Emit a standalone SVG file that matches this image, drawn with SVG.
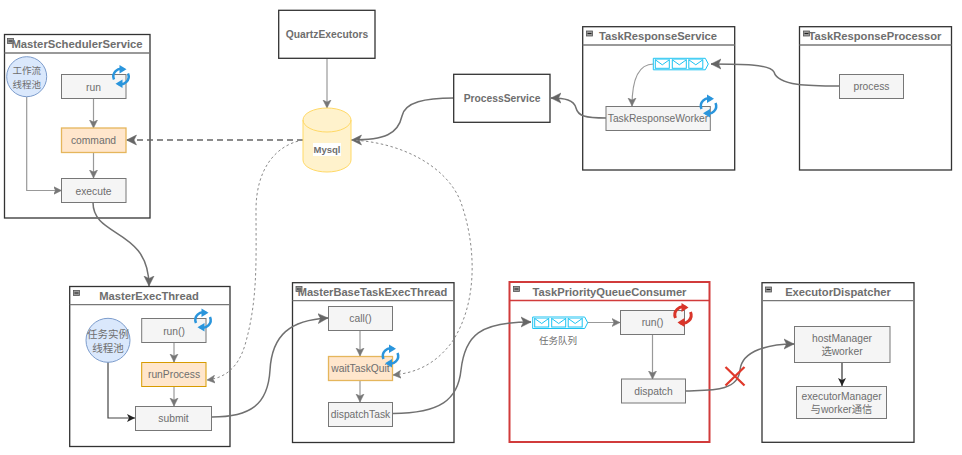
<svg xmlns="http://www.w3.org/2000/svg" width="962" height="455" viewBox="0 0 962 455">
<style>
text{font-family:"Liberation Sans",Arial,"Noto Sans CJK SC",sans-serif;font-size:10.300px;fill:#6e6e6e;text-anchor:middle}
.t{font-weight:bold;font-size:11.200px}
.t2{font-weight:bold;font-size:10.300px}
.f{fill:#fff;stroke:#333;stroke-width:1.300}
.h{stroke:#777;stroke-width:1.300;fill:none}
.b{fill:#f5f5f5;stroke:#777;stroke-width:1}
.o{fill:#ffe6cc;stroke:#e5b65c;stroke-width:1.300}
.c{fill:#dae8fc;stroke:#7c9ccc;stroke-width:1}
.e{stroke:#999;stroke-width:1.200;fill:none}
.k{stroke:#707070;stroke-width:1.500;fill:none}
.d{stroke:#666;stroke-width:1.500;fill:none;stroke-dasharray:6 4}
.g{stroke:#8a8a8a;stroke-width:1;fill:none;stroke-dasharray:2.500 2.500}
.s{fill:none;stroke:#2a95dc;stroke-width:2.500}
.r{fill:none;stroke:#d9352a;stroke-width:3}
.q{fill:#fff;stroke:#1cc3f2;stroke-width:1}
</style>
<defs>
<marker id="a" markerUnits="userSpaceOnUse" markerWidth="10" markerHeight="10" refX="8" refY="5" orient="auto"><path d="M0 1 L8 5 L0 9 L2 5 Z" fill="#777" stroke="#777" stroke-width=".5"/></marker>
<marker id="A" markerUnits="userSpaceOnUse" markerWidth="12" markerHeight="12" refX="10" refY="6" orient="auto"><path d="M0 1 L10 6 L0 11 L2.500 6 Z" fill="#666" stroke="#666" stroke-width=".5"/></marker>
<marker id="K" markerUnits="userSpaceOnUse" markerWidth="10" markerHeight="10" refX="8" refY="5" orient="auto"><path d="M0 1 L8 5 L0 9 L2 5 Z" fill="#222"/></marker>
<g id="sy"><path class="s" d="M-7 3 A7.600 7.600 0 0 1 3 -7"/><path class="s" d="M7 -3 A7.600 7.600 0 0 1 -3 7"/><path d="M-1.500 -11.500 L5.500 -7.300 L-1.500 -3 Z" fill="#2a95dc"/><path d="M1.500 11.500 L-5.500 7.300 L1.500 3 Z" fill="#2a95dc"/></g>
<g id="sr"><path class="r" d="M-7.500 3 A8 8 0 0 1 3 -7.500"/><path class="r" d="M7.500 -3 A8 8 0 0 1 -3 7.500"/><path d="M-1.500 -12 L5.500 -7.500 L-1.500 -3 Z" fill="#d9352a"/><path d="M1.500 12 L-5.500 7.500 L1.500 3 Z" fill="#d9352a"/></g>
<g id="mi"><rect x="0" y="0" width="6" height="5" fill="#999" stroke="#555" stroke-width=".8"/><path d="M1 2.500H5" stroke="#222" stroke-width="1"/></g>
<g id="env"><rect x="0" y="0" width="14" height="8.500" class="q"/><path d="M0 0 L7 5 L14 0" class="q"/></g>
<g id="que"><path d="M0 0 H52 L55 5.700 L52 11.500 H0 Z" class="q"/><use href="#env" x="2" y="1.500"/><use href="#env" x="19" y="1.500"/><use href="#env" x="35.500" y="1.500"/></g>
</defs>

<g id="node-scheduler"><rect class="f" x="4.500" y="34.500" width="145.500" height="183.500"/><path class="h" d="M4.500 53H150"/><use href="#mi" x="7.500" y="38.500"/><text class="t" x="77" y="48" style="font-size:11.300px">MasterSchedulerService</text></g>
<g id="node-execthread"><rect class="f" x="69.700" y="286.500" width="160.300" height="160"/><path class="h" d="M69.700 304.700H230"/><use href="#mi" x="73.500" y="290.500"/><text class="t" x="149" y="300">MasterExecThread</text></g>
<g id="node-basetask"><rect class="f" x="292.500" y="282.700" width="161.500" height="159.800"/><path class="h" d="M292.500 300.700H454"/><use href="#mi" x="296" y="286.500"/><text class="t" x="372.500" y="296" style="font-size:11.100px">MasterBaseTaskExecThread</text></g>
<g id="node-consumer"><rect x="509.500" y="282" width="200" height="160" fill="#fff" stroke="#d13b3b" stroke-width="2"/><path d="M509.500 300.500H709.500" stroke="#d13b3b" stroke-width="1.500"/><use href="#mi" x="513.500" y="286.500"/><text class="t" x="609.500" y="296">TaskPriorityQueueConsumer</text></g>
<g id="node-dispatcher"><rect class="f" x="762" y="282.700" width="152" height="159.600"/><path class="h" d="M762 300.700H914"/><use href="#mi" x="765.500" y="287"/><text class="t" x="838" y="296">ExecutorDispatcher</text></g>
<g id="node-responseservice"><rect class="f" x="582.700" y="26.700" width="152" height="143.300"/><path class="h" d="M582.700 45H734.700"/><use href="#mi" x="586.500" y="31"/><text class="t" x="658" y="40">TaskResponseService</text></g>
<g id="node-responseprocessor"><rect class="f" x="799.500" y="26.700" width="152" height="143.300"/><path class="h" d="M799.500 45H951.500"/><use href="#mi" x="803.500" y="31"/><text class="t" x="875" y="40">TaskResponseProcessor</text></g>

<g id="connectors">
<path class="e" marker-end="url(#a)" d="M93.500 98.500V128"/>
<path class="e" marker-end="url(#a)" d="M93.500 152.500V178"/>
<path class="e" marker-end="url(#a)" d="M26.700 97V190.500H61.500"/>
<path class="k" marker-end="url(#A)" d="M93 202.500C93 238 149 228 149 286"/>
<path class="d" marker-end="url(#A)" d="M303 140H126.500"/>
<path class="e" marker-end="url(#a)" d="M327 58.500V108"/>
<path class="k" marker-end="url(#A)" d="M453.700 98C425 98 405 102 402 116C398 134 385 140 351.500 140"/>
<path class="k" marker-end="url(#A)" d="M606 118C585 118 578 116 576 108C574 100 565 98 551 98"/>
<path class="k" marker-end="url(#A)" d="M839 86C810 86 778 86 774 72C770 64 740 64 711 64"/>
<path class="e" marker-end="url(#a)" d="M653.500 64C638 64 632 80 632 106"/>
<path class="g" marker-end="url(#a)" d="M303 140C275 145 256 170 256 210C256 260 258 300 245 345C238 368 225 378 207 380"/>
<path class="g" marker-end="url(#a)" d="M351 140C400 142 445 165 460 200C475 240 480 300 452 342C435 365 415 373 393 375"/>
<path class="e" marker-end="url(#a)" d="M174 342.500V362"/>
<path class="e" marker-end="url(#a)" d="M174 386.500V406"/>
<path stroke="#444" stroke-width="1.200" fill="none" marker-end="url(#K)" d="M108 362V418H135"/>
<path class="k" marker-end="url(#A)" d="M212 417C250 417 268 405 270 370C272 335 290 320 328 318"/>
<path class="e" marker-end="url(#a)" d="M360 330.500V356"/>
<path class="e" marker-end="url(#a)" d="M360 380.500V402"/>
<path class="k" marker-end="url(#A)" d="M393 413.500C440 413 458 400 461 370C465 335 480 322 531 322"/>
<path class="e" marker-end="url(#a)" d="M587 322.500H620"/>
<path class="e" marker-end="url(#a)" d="M652.500 334.500V379"/>
<path class="k" marker-end="url(#A)" d="M686 391C710 390 738 392 740 370C742 350 770 344 794 344"/>
<path stroke="#333" stroke-width="1.200" fill="none" marker-end="url(#K)" d="M842 362.500V386"/>
</g>

<g id="node-quartz"><rect class="f" x="278.700" y="10.300" width="96.300" height="48"/><text class="t2" x="327" y="38">QuartzExecutors</text></g>
<g id="node-process"><rect class="f" x="453.700" y="74.300" width="96.300" height="48"/><text class="t2" x="502" y="102">ProcessService</text></g>
<g id="node-mysql"><path d="M303 120 A24 12 0 0 1 351 120 V160 A24 12 0 0 1 303 160 Z" fill="#fff2cc" stroke="#ffd966" stroke-width="1"/><path d="M303 120 A24 12 0 0 0 351 120" fill="none" stroke="#ffd966"/><rect x="313" y="143" width="28" height="13" fill="#fff"/><text class="t" x="327" y="153" style="font-size:9.500px">Mysql</text></g>

<g id="node-pool1"><circle class="c" cx="26.700" cy="76.700" r="20"/><text x="26.700" y="74" style="font-size:9.500px">工作流</text><text x="26.700" y="88" style="font-size:9.500px">线程池</text></g>
<g id="node-run1"><rect class="b" x="61.500" y="74.500" width="64.500" height="24"/><text x="93.500" y="90.500">run</text><use href="#sy" x="121" y="76.500"/></g>
<g id="node-command"><rect class="o" x="61.500" y="128" width="64.500" height="24.500"/><text x="93.500" y="144">command</text></g>
<g id="node-execute"><rect class="b" x="61.500" y="178.500" width="64.500" height="24"/><text x="93.500" y="194.500">execute</text></g>

<g id="node-pool2"><circle class="c" cx="108" cy="340.300" r="22"/><text x="108" y="338" style="font-size:10.500px">任务实例</text><text x="108" y="352" style="font-size:10.500px">线程池</text></g>
<g id="node-run2"><rect class="b" x="141.700" y="318.500" width="64.300" height="24"/><text x="174" y="334.500">run()</text><use href="#sy" x="203" y="320"/></g>
<g id="node-runprocess"><rect class="o" x="141.700" y="362.500" width="64.300" height="24" style="stroke:#d79b00;stroke-width:1"/><text x="174" y="378">runProcess</text></g>
<g id="node-submit"><rect class="b" x="135.500" y="406.500" width="76" height="24"/><text x="173.500" y="422">submit</text></g>

<g id="node-call"><rect class="b" x="328.500" y="306.500" width="64" height="24"/><text x="360.500" y="322">call()</text></g>
<g id="node-waittask"><rect class="o" x="328.500" y="356.500" width="64" height="24"/><text x="360.500" y="372">waitTaskQuit</text><use href="#sy" x="390.500" y="356"/></g>
<g id="node-dispatchtask"><rect class="b" x="328.500" y="402.500" width="64" height="24"/><text x="360.500" y="418">dispatchTask</text></g>

<g id="node-queue1"><use href="#que" x="532.700" y="317"/><text x="558" y="344" style="font-size:9.500px">任务队列</text></g>
<g id="node-run3"><rect class="b" x="620.500" y="310.500" width="64" height="24"/><text x="652.500" y="326">run()</text><use href="#sr" x="683" y="315"/></g>
<g id="node-dispatch"><rect class="b" x="621.500" y="379" width="64" height="24"/><text x="653.500" y="395">dispatch</text></g>
<g id="node-x"><path d="M725.500 367L744.500 385.500M744.500 367L725.500 385.500" stroke="#e0392b" stroke-width="2.300" fill="none"/></g>

<g id="node-host"><rect class="b" x="794.500" y="326.500" width="95.500" height="36"/><text x="842" y="342">hostManager</text><text x="842" y="355">选worker</text></g>
<g id="node-executor"><rect class="b" x="796.500" y="386.500" width="90" height="32"/><text x="841.500" y="400">executorManager</text><text x="841.500" y="413">与worker通信</text></g>

<g id="node-queue2"><use href="#que" x="653.300" y="58.300"/></g>
<g id="node-worker"><rect class="b" x="606" y="106.500" width="104.300" height="24"/><text x="658" y="122">TaskResponseWorker</text><use href="#sy" x="708.500" y="106"/></g>
<g id="node-procbox"><rect class="b" x="839.500" y="74.500" width="64" height="24"/><text x="871.500" y="90">process</text></g>
</svg>
